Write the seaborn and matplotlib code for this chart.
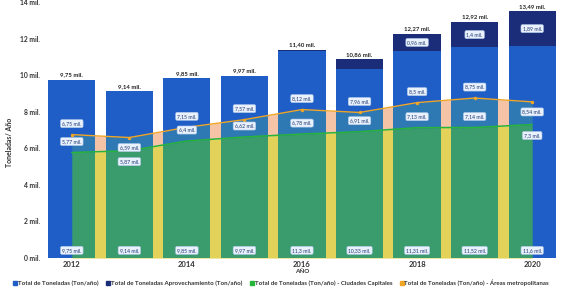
"""
Toneladas por año: barras apiladas + áreas de ciudades capitales y áreas metropolitanas
"""
import numpy as np
import matplotlib
matplotlib.use("Agg")
import matplotlib.pyplot as plt
from matplotlib.path import Path
from matplotlib.lines import Line2D
import seaborn as sns

years = ["2012", "2013", "2014", "2015", "2016", "2017", "2018", "2019", "2020"]
total_ton = [9.75, 9.14, 9.85, 9.97, 11.30, 10.33, 11.31, 11.52, 11.60]
aprovechamiento = [0, 0, 0, 0, 0.10, 0.53, 0.96, 1.40, 1.89]
ciudades_capitales = [5.77, 5.87, 6.40, 6.62, 6.78, 6.91, 7.13, 7.14, 7.30]
areas_metropolitanas = [6.75, 6.59, 7.15, 7.57, 8.12, 7.96, 8.50, 8.75, 8.54]

BLUE = "#1e5ec6"
NAVY = "#1b2d78"
GREEN_LINE = "#27b43a"
ORANGE_LINE = "#f0a526"
YELLOW = "#e2d25a"
PEACH = "#f5c3a6"
GREEN_ON_BLUE = "#3a9c6c"
TEAL_ON_BLUE = "#2e79b4"

sns.set_theme(style="white")
plt.rcParams["font.family"] = ["Lato", "DejaVu Sans"]


def fmt(v, dec=None):
    s = f"{v:.{dec}f}" if dec is not None else f"{v:g}"
    return s.replace(".", ",") + " mil."


def main():
    fig = plt.figure(figsize=(5.63, 2.88), dpi=100)
    ax = fig.add_axes([0.0764, 0.104, 0.92, 0.889])

    stacked = [t + a for t, a in zip(total_ton, aprovechamiento)]
    xpos = np.arange(len(years))

    # stacked trick: draw the full height in navy, then the base total in blue
    sns.barplot(x=years, y=stacked, color=NAVY, saturation=1, width=0.82,
                linewidth=0, ax=ax)
    sns.barplot(x=years, y=total_ton, color=BLUE, saturation=1, width=0.82,
                linewidth=0, ax=ax)
    bars = list(ax.patches)
    for b in bars:
        b.set_zorder(2)

    # areas behind the bars (visible in the gaps)
    ax.fill_between(xpos, 0, ciudades_capitales, color=YELLOW, lw=0, zorder=1)
    ax.fill_between(xpos, ciudades_capitales, areas_metropolitanas, color=PEACH,
                    lw=0, zorder=1)

    # same areas seen through the bars
    rects = []
    for b in bars[:len(years)]:
        x0, x1 = b.get_x(), b.get_x() + b.get_width()
        y0, y1 = b.get_y(), b.get_y() + b.get_height()
        rects.append(Path([(x0, y0), (x1, y0), (x1, y1), (x0, y1), (x0, y0)],
                          [Path.MOVETO, Path.LINETO, Path.LINETO, Path.LINETO,
                           Path.CLOSEPOLY]))
    clip = Path.make_compound_path(*rects)
    f1 = ax.fill_between(xpos, 0, ciudades_capitales, color=GREEN_ON_BLUE, lw=0,
                         zorder=3)
    f2 = ax.fill_between(xpos, ciudades_capitales, areas_metropolitanas,
                         color=TEAL_ON_BLUE, lw=0, zorder=3)
    for f in (f1, f2):
        f.set_clip_path(clip, ax.transData)

    sns.lineplot(x=xpos, y=ciudades_capitales, color=GREEN_LINE, lw=1.1,
                 legend=False, ax=ax, zorder=4)
    sns.lineplot(x=xpos, y=areas_metropolitanas, color=ORANGE_LINE, lw=1.0,
                 marker="o", markersize=2.5, markeredgewidth=0, legend=False,
                 ax=ax, zorder=4)

    box = dict(boxstyle="round,pad=0.3", fc="#e9f1fc", ec="#a9c4e8", lw=0.4)
    lab = dict(ha="center", va="center", fontsize=3.7, color="#1d3670",
               bbox=box, zorder=6)

    # which side of its line each label sits on
    side = [1, -1, 1, 1, 1, 1, 1, 1, -1]

    for i in range(len(years)):
        ax.text(i, stacked[i] + 0.12, fmt(stacked[i], 2), ha="center",
                va="bottom", fontsize=4.3, fontweight="bold", color="#222222",
                zorder=6)
        ax.text(i, 0.42, fmt(total_ton[i]), **lab)
        if aprovechamiento[i] > 0.6:
            ax.text(i, total_ton[i] + aprovechamiento[i] / 2, fmt(aprovechamiento[i]),
                    **lab)
        o = areas_metropolitanas[i]
        ax.text(i, o + 0.6 if side[i] > 0 else o - 0.55, fmt(o), **lab)
        g = ciudades_capitales[i]
        ax.text(i, g + 0.6 if side[i] > 0 else g - 0.6, fmt(g), **lab)

    ax.set_xlim(-0.5, len(years) - 0.5)
    ax.set_ylim(0, 14)
    ax.set_xticks(xpos[::2])
    ax.set_xticklabels(years[::2], fontsize=5.5, fontweight="bold", color="#333333")
    ax.set_yticks(range(0, 15, 2))
    ax.set_yticklabels([f"{v} mil." for v in range(0, 15, 2)], fontsize=4.9,
                       fontweight="bold", color="#333333")
    ax.tick_params(length=0, pad=2)
    for s in ax.spines.values():
        s.set_visible(False)
    ax.set_xlabel("AÑO", fontsize=4.5, fontweight="bold", color="#333333", labelpad=1)
    ax.set_ylabel("Toneladas/ Año", fontsize=5, fontweight="bold", color="#333333")
    ax.yaxis.set_label_coords(-0.058, 0.45)

    handles = [
        Line2D([], [], ls="", marker="s", ms=2.6, color=BLUE),
        Line2D([], [], ls="", marker="s", ms=2.6, color=NAVY),
        Line2D([], [], ls="", marker="s", ms=2.6, color=GREEN_LINE),
        Line2D([], [], ls="", marker="s", ms=2.6, color=ORANGE_LINE),
    ]
    names = [
        "Total de Toneladas (Ton/año)",
        "Total de Toneladas Aprovechamiento (Ton/año)",
        "Total de Toneladas (Ton/año) - Ciudades Capitales",
        "Total de Toneladas (Ton/año) - Áreas metropolitanas",
    ]
    fig.legend(handles, names, loc="center", bbox_to_anchor=(0.5, 0.018), ncol=4,
               frameon=False, handlelength=0.5, handletextpad=0.2,
               columnspacing=1.3, labelcolor="#333333",
               prop={"weight": "bold", "size": 4.4})

    fig.savefig("out.png", dpi=100)


if __name__ == "__main__":
    main()
